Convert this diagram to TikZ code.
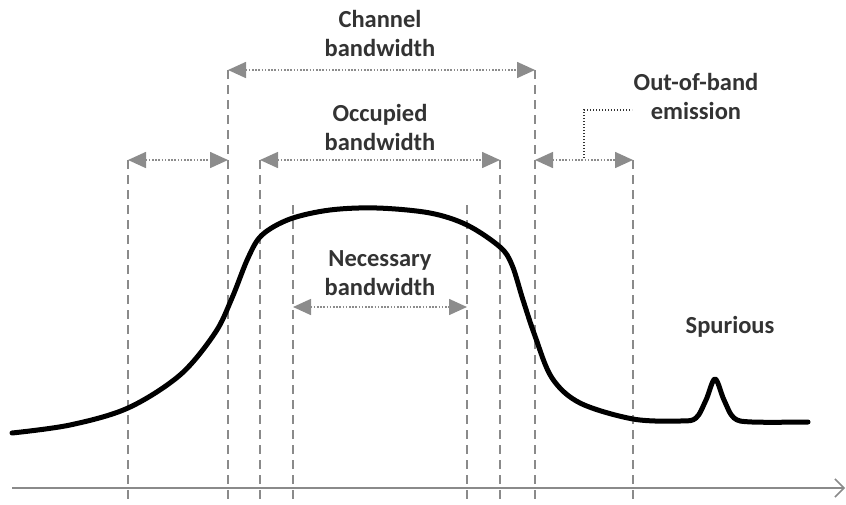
\documentclass[tikz,border=0pt]{standalone}
\usepackage{fontspec}
\setmainfont{Carlito}
\usetikzlibrary{arrows.meta}
\definecolor{txt}{HTML}{333333}
\definecolor{guide}{HTML}{8A8A8A}
\definecolor{arr}{HTML}{8C8C8C}
\begin{document}
\begin{tikzpicture}[x=1pt,y=-1pt,
  lbl/.style={font=\fontsize{24.5}{29}\selectfont\bfseries, text=txt, align=center, inner sep=0pt},
  guideline/.style={draw=guide, line width=1.3pt, dash pattern=on 9pt off 6pt},
  bw/.style={draw=arr, line width=1.6pt, dash pattern=on 1.6pt off 1.6pt, {Triangle[length=18pt,width=16pt,fill=arr]}-{Triangle[length=18pt,width=16pt,fill=arr]}},
  leader/.style={draw=txt, line width=1.4pt, dash pattern=on 1.4pt off 1.6pt},
  spectrum/.style={draw=black, line width=5pt, line join=round, line cap=round},
  axis/.style={draw=guide, line width=2pt, -{Straight Barb[length=9pt,width=18pt,line width=1.5pt]}}]
\useasboundingbox (0,0) rectangle (846,504);

% guide line ends
\coordinate (a1) at (128,160); \coordinate (b1) at (128,503);
\coordinate (a2) at (228,70);  \coordinate (b2) at (228,503);
\coordinate (a3) at (260,160); \coordinate (b3) at (260,503);
\coordinate (a4) at (293,205); \coordinate (b4) at (293,503);
\coordinate (a5) at (467,205); \coordinate (b5) at (467,503);
\coordinate (a6) at (500,160); \coordinate (b6) at (500,503);
\coordinate (a7) at (535,70);  \coordinate (b7) at (535,503);
\coordinate (a8) at (633,160); \coordinate (b8) at (633,503);
\foreach \i in {1,...,8} {\draw[guideline] (a\i) -- (b\i);}

% axis
\coordinate (ax0) at (12,488); \coordinate (ax1) at (845,488);
\draw[axis] (ax0) -- (ax1);

% spectrum curve
\draw[spectrum] plot[smooth, tension=0.55] coordinates {
  (12,433) (70,425) (128,408) (180,375) (215,333) (232,298) (248,258) (262,235)
  (290,219) (330,210) (377,208) (430,213) (467,225) (500,247) (512,265)
  (523,300) (535,336) (552,378) (580,403) (633,419) (680,421) (696,418) (706,400) (715,379)
  (724,400) (734,418) (752,422) (808,422)};

% bandwidth arrows
\coordinate (c2) at (228,70);  \coordinate (c7) at (535,70);
\coordinate (o1) at (128,160); \coordinate (o2) at (228,160);
\coordinate (o3) at (260,160); \coordinate (o6) at (500,160);
\coordinate (o7) at (535,160); \coordinate (o8) at (633,160);
\coordinate (n4) at (293,307); \coordinate (n5) at (467,307);
\draw[bw] (c2) -- (c7);
\draw[bw] (o1) -- (o2);
\draw[bw] (o3) -- (o6);
\draw[bw] (o7) -- (o8);
\draw[bw] (n4) -- (n5);

% labels
\node[lbl] (chan) at (380,33) {Channel\\bandwidth};
\node[lbl] (occ) at (380,127) {Occupied\\bandwidth};
\node[lbl] (nec) at (380,273) {Necessary\\bandwidth};
\node[lbl] (oob) at (696,96) {Out-of-band\\emission};
\node[lbl] (spur) at (730,327) {Spurious};

% out-of-band leader
\coordinate (l0) at (584,158); \coordinate (l1) at (584,110); \coordinate (l2) at (632,110);
\draw[leader] (l0) -- (l1) -- (l2);
\end{tikzpicture}
\end{document}
